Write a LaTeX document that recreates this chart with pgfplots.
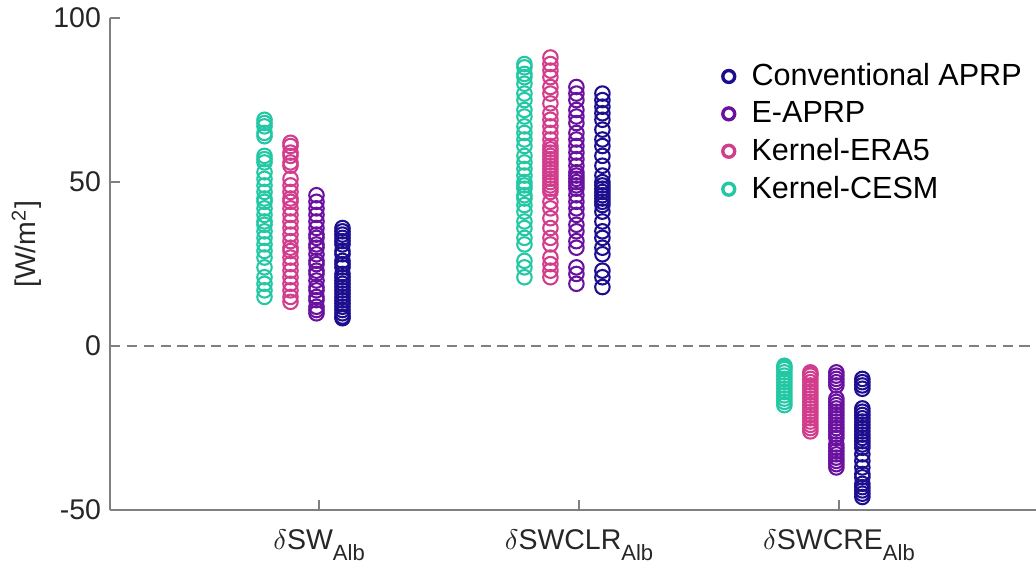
\documentclass[border=0pt]{standalone}
\usepackage{pgfplots}
\pgfplotsset{compat=1.18}
\usepackage{fontspec}
\setmainfont{Liberation Sans}
\definecolor{cConv}{HTML}{1C0E8E}
\definecolor{cEAPRP}{HTML}{6B11A0}
\definecolor{cERA}{HTML}{D23C8C}
\definecolor{cCESM}{HTML}{22C7A3}
\definecolor{axgray}{HTML}{808080}
\definecolor{txt}{HTML}{262626}
\newcommand{\sub}[1]{\raisebox{-4.2pt}{\fontsize{8.5}{9}\selectfont #1}}

\begin{document}
\begin{tikzpicture}
\path[use as bounding box] (-42.5pt,-25.1pt) rectangle (357.4pt,196.9pt);
\begin{axis}[
  at={(0,0)}, anchor=south west, scale only axis,
  width=357.4pt, height=189.9pt,
  xmin=0.196, xmax=3.758, ymin=-50, ymax=100,
  axis x line*=bottom, axis y line*=left,
  axis line style={axgray, line width=0.6pt},
  tick style={axgray, line width=0.6pt}, tick align=inside,
  major tick length=4pt,
  xtick={1,2,3},
  xticklabels={$\delta$SW\sub{Alb}, $\delta$SWCLR\sub{Alb}, $\delta$SWCRE\sub{Alb}},
  ytick={-50,0,50,100},
  /pgf/number format/assume math mode=true,
  ticklabel style={font=\fontsize{11}{13}\selectfont, text=txt},
  xticklabel style={yshift=-4pt},
  ylabel={[W/m\textsuperscript{2}]},
  ylabel style={font=\fontsize{11}{13}\selectfont, text=txt, at={(axis description cs:-0.09,0.54)}, anchor=center},
  only marks,
  every axis plot/.append style={mark=o, mark size=2.8pt, line width=0.8pt},
  legend style={at={(0.65,0.93)}, anchor=north west, draw=none, fill=white,
    font=\fontsize{11.8}{13}\selectfont, row sep=0.6pt, inner xsep=4pt,
    /tikz/every odd column/.append style={column sep=4.5pt}},
  legend cell align=left,
  legend image code/.code={\draw[#1, mark size=2.3pt, line width=1.3pt] plot coordinates {(0.22cm,0)};},
]
\addplot[cConv] coordinates {
(1.09,36) (1.09,35) (1.09,34) (1.09,33) (1.09,32) (1.09,31) (1.09,29) (1.09,28) (1.09,26) (1.09,25) (1.09,24) (1.09,22) (1.09,21) (1.09,20) (1.09,19) (1.09,18) (1.09,17) (1.09,16) (1.09,15) (1.09,14) (1.09,13) (1.09,12) (1.09,11) (1.09,10) (1.09,9) (1.09,8.5)
(2.09,77) (2.09,75) (2.09,73) (2.09,71) (2.09,69) (2.09,66) (2.09,63) (2.09,61) (2.09,58) (2.09,55) (2.09,52) (2.09,50) (2.09,49) (2.09,48) (2.09,47) (2.09,46) (2.09,45) (2.09,44) (2.09,43) (2.09,41) (2.09,38) (2.09,35) (2.09,33) (2.09,30) (2.09,28) (2.09,23) (2.09,21) (2.09,18)
(3.09,-10) (3.09,-11) (3.09,-12) (3.09,-13) (3.09,-19) (3.09,-20) (3.09,-21) (3.09,-22) (3.09,-23) (3.09,-24) (3.09,-25) (3.09,-26) (3.09,-27) (3.09,-28) (3.09,-29) (3.09,-30) (3.09,-31) (3.09,-33) (3.09,-35) (3.09,-37) (3.09,-39) (3.09,-40) (3.09,-42) (3.09,-43) (3.09,-44) (3.09,-45) (3.09,-46)
};
\addplot[cEAPRP] coordinates {
(0.99,46) (0.99,44) (0.99,42) (0.99,40) (0.99,38) (0.99,36) (0.99,34) (0.99,33) (0.99,31) (0.99,30) (0.99,28) (0.99,26) (0.99,25) (0.99,23) (0.99,22) (0.99,20) (0.99,18) (0.99,17) (0.99,15) (0.99,14) (0.99,12) (0.99,11) (0.99,10)
(1.99,79) (1.99,77) (1.99,75) (1.99,72) (1.99,70) (1.99,68) (1.99,65) (1.99,63) (1.99,61) (1.99,59) (1.99,57) (1.99,55) (1.99,53) (1.99,52) (1.99,51) (1.99,50) (1.99,49) (1.99,48) (1.99,46) (1.99,44) (1.99,42) (1.99,40) (1.99,37) (1.99,35) (1.99,32) (1.99,30) (1.99,24) (1.99,22) (1.99,19)
(2.99,-8) (2.99,-9) (2.99,-10) (2.99,-11) (2.99,-12) (2.99,-16) (2.99,-17) (2.99,-18) (2.99,-19) (2.99,-20) (2.99,-21) (2.99,-22) (2.99,-23) (2.99,-24) (2.99,-25) (2.99,-26) (2.99,-27) (2.99,-28) (2.99,-30) (2.99,-31) (2.99,-32) (2.99,-33) (2.99,-34) (2.99,-35) (2.99,-36) (2.99,-37)
};
\addplot[cERA] coordinates {
(0.89,62) (0.89,61) (0.89,59) (0.89,58) (0.89,56) (0.89,55) (0.89,51) (0.89,49) (0.89,47) (0.89,45) (0.89,44) (0.89,42) (0.89,40) (0.89,38) (0.89,36) (0.89,34) (0.89,32) (0.89,30) (0.89,29) (0.89,27) (0.89,25) (0.89,23) (0.89,21) (0.89,19) (0.89,17) (0.89,15) (0.89,13.5)
(1.89,88) (1.89,86) (1.89,84) (1.89,82) (1.89,79) (1.89,77) (1.89,74) (1.89,71) (1.89,69) (1.89,67) (1.89,65) (1.89,63) (1.89,61) (1.89,60) (1.89,59) (1.89,58) (1.89,57) (1.89,56) (1.89,55) (1.89,54) (1.89,53) (1.89,52) (1.89,51) (1.89,50) (1.89,49) (1.89,48) (1.89,47) (1.89,44) (1.89,42) (1.89,39) (1.89,36) (1.89,33) (1.89,31) (1.89,27) (1.89,25) (1.89,23) (1.89,21)
(2.89,-8) (2.89,-8.5) (2.89,-9) (2.89,-10) (2.89,-11) (2.89,-12) (2.89,-13) (2.89,-14) (2.89,-15) (2.89,-16) (2.89,-17) (2.89,-18) (2.89,-19) (2.89,-20) (2.89,-21) (2.89,-22) (2.89,-23) (2.89,-24) (2.89,-25) (2.89,-26)
};
\addplot[cCESM] coordinates {
(0.79,69) (0.79,68) (0.79,67) (0.79,65) (0.79,64) (0.79,58) (0.79,57) (0.79,56) (0.79,53) (0.79,51) (0.79,49) (0.79,47) (0.79,45) (0.79,44) (0.79,42) (0.79,40) (0.79,38) (0.79,37) (0.79,35) (0.79,33) (0.79,31) (0.79,29) (0.79,27) (0.79,24) (0.79,21) (0.79,19) (0.79,17) (0.79,15)
(1.79,86) (1.79,85) (1.79,83) (1.79,82) (1.79,80) (1.79,77) (1.79,75) (1.79,72) (1.79,70) (1.79,67) (1.79,65) (1.79,63) (1.79,61) (1.79,58) (1.79,56) (1.79,54) (1.79,52) (1.79,50) (1.79,49) (1.79,48) (1.79,46) (1.79,45) (1.79,43) (1.79,41) (1.79,38) (1.79,36) (1.79,33) (1.79,31) (1.79,26) (1.79,24) (1.79,21)
(2.79,-6) (2.79,-6.5) (2.79,-7) (2.79,-8) (2.79,-9) (2.79,-10) (2.79,-11) (2.79,-12) (2.79,-13) (2.79,-14) (2.79,-15) (2.79,-16) (2.79,-17) (2.79,-18)
};
\draw[axgray, line width=0.6pt, dash pattern=on 4pt off 2.5pt] (axis cs:0.196,0) -- (axis cs:3.758,0);
\legend{Conventional APRP, E-APRP, Kernel-ERA5, Kernel-CESM}
\end{axis}
\end{tikzpicture}
\end{document}
